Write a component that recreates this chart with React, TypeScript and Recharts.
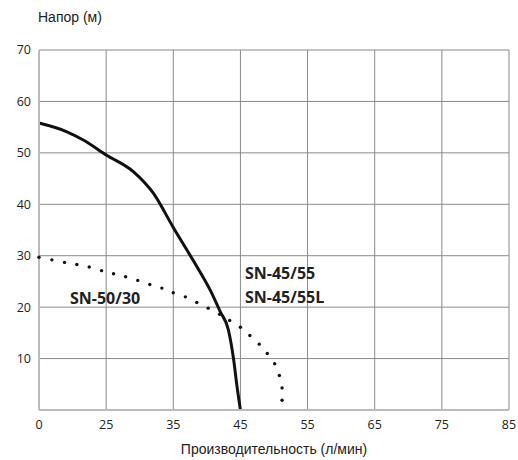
import { LineChart, Line, XAxis, YAxis, CartesianGrid } from "recharts";

// axis ticks (the x axis is not linear: 0..25 takes one cell, then 10 per cell)
const flowTicks = [0, 25, 35, 45, 55, 65, 75, 85];
const headTicks = [10, 20, 30, 40, 50, 60, 70];

// SN-45/55 (solid)
const sn4555Flow = [0, 10.4, 16.5, 25, 29, 32, 35, 38, 40.5, 42, 43.2, 44, 44.5, 45];
const sn4555Head = [55.8, 54.1, 52.5, 49.6, 46.4, 42.2, 35.5, 29, 23.3, 19.1, 15.6, 9.7, 4.5, 0];

// SN-50/30 (dotted)
const sn5030Flow = [
  0, 4.8, 9.5, 14.1, 18.7, 23.3, 26.1, 27.9, 29.7, 31.5, 33.3, 35, 36.8, 38.5, 40.2, 41.9, 43.4, 45,
  46.4, 47.8, 49.0, 50.1, 50.8, 51.2, 51.2,
];
const sn5030Head = [
  29.7, 29.2, 28.7, 28.3, 27.8, 27.1, 26.5, 25.9, 25.2, 24.4, 23.7, 22.8, 22.0, 20.9, 19.8, 18.6, 17.4,
  16.1, 14.5, 12.8, 11.0, 9.0, 6.7, 4.3, 1.9,
];

// flow value -> position on the axis (index of tick cell)
const toPos = (q: number) => {
  for (let i = 1; i < flowTicks.length; i++) {
    if (q <= flowTicks[i]) {
      return i - 1 + (q - flowTicks[i - 1]) / (flowTicks[i] - flowTicks[i - 1]);
    }
  }
  return flowTicks.length - 1;
};

const solidData = sn4555Flow.map((q, i) => ({ t: toPos(q), head: sn4555Head[i] }));
const dotData = sn5030Flow.map((q, i) => ({ t: toPos(q), head: sn5030Head[i] }));

const tickFont = { fontFamily: "'Open Sans', sans-serif", fontSize: 12.5, fill: "#222" };
const labelFont = { fontFamily: "'Open Sans', sans-serif", fontSize: 16, fontWeight: 700, fill: "#222" };
const titleFont = { fontFamily: "'Liberation Sans', Arial, sans-serif", fontSize: 14, fill: "#222" };

export default function App() {
  return (
    <div style={{ position: "absolute", left: 0, top: 0, background: "#fff" }}>
      <LineChart width={518} height={460} margin={{ top: 50, right: 9, bottom: 0, left: 0 }}>
        <CartesianGrid stroke="#8a8a8a" strokeWidth={1} />
        <XAxis
          dataKey="t"
          type="number"
          domain={[0, 7]}
          ticks={flowTicks.map((_, i) => i)}
          tickFormatter={(v: number) => String(flowTicks[v])}
          tickLine={false}
          tickMargin={4}
          height={50}
          stroke="#bbb"
          strokeWidth={2}
          tick={tickFont}
          label={{
            value: "Производительность (л/мин)",
            position: "insideBottom",
            offset: 6,
            style: titleFont,
          }}
        />
        <YAxis
          type="number"
          domain={[0, 70]}
          ticks={headTicks}
          tickLine={false}
          width={39}
          stroke="#bbb"
          strokeWidth={2}
          tick={tickFont}
        />
        <Line
          data={solidData}
          dataKey="head"
          type="monotone"
          stroke="#111"
          strokeWidth={3}
          dot={false}
          isAnimationActive={false}
        />
        <Line
          data={dotData}
          dataKey="head"
          type="monotone"
          stroke="none"
          dot={{ r: 1.7, fill: "#111", stroke: "none" }}
          isAnimationActive={false}
        />
        <text x={38} y={22} style={titleFont}>
          Напор (м)
        </text>
        <text x={70} y={304} style={labelFont}>SN-50/30</text>
        <text x={245} y={279} style={labelFont}>SN-45/55</text>
        <text x={245} y={303} style={labelFont}>SN-45/55L</text>
      </LineChart>
    </div>
  );
}
